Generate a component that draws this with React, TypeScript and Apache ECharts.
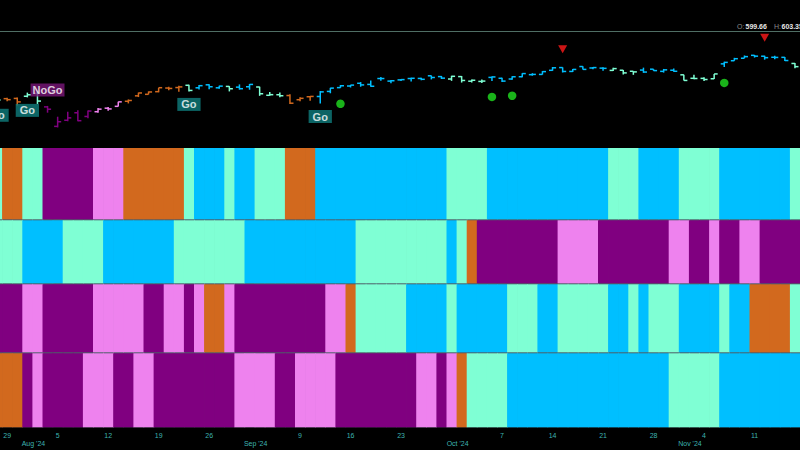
import React, { useEffect, useRef } from 'react';
import * as echarts from 'echarts';

const dates = [
  '2024-07-26','2024-07-29','2024-07-30','2024-07-31','2024-08-01','2024-08-02','2024-08-05','2024-08-06','2024-08-07','2024-08-08',
  '2024-08-09','2024-08-12','2024-08-13','2024-08-14','2024-08-15','2024-08-16','2024-08-19','2024-08-20','2024-08-21','2024-08-22',
  '2024-08-23','2024-08-26','2024-08-27','2024-08-28','2024-08-29','2024-08-30','2024-09-03','2024-09-04','2024-09-05','2024-09-06',
  '2024-09-09','2024-09-10','2024-09-11','2024-09-12','2024-09-13','2024-09-16','2024-09-17','2024-09-18','2024-09-19','2024-09-20',
  '2024-09-23','2024-09-24','2024-09-25','2024-09-26','2024-09-27','2024-09-30','2024-10-01','2024-10-02','2024-10-03','2024-10-04',
  '2024-10-07','2024-10-08','2024-10-09','2024-10-10','2024-10-11','2024-10-14','2024-10-15','2024-10-16','2024-10-17','2024-10-18',
  '2024-10-21','2024-10-22','2024-10-23','2024-10-24','2024-10-25','2024-10-28','2024-10-29','2024-10-30','2024-10-31','2024-11-01',
  '2024-11-04','2024-11-05','2024-11-06','2024-11-07','2024-11-08','2024-11-11','2024-11-12','2024-11-13','2024-11-14','2024-11-15',
];

const opens = [
  542.3,546.0,546.3,549.0,552.6,535.8,511.6,519.2,528.5,523.9,
  529.8,534.2,536.5,542.8,549.5,551.4,554.7,559.2,559.8,562.6,
  559.5,563.2,559.5,561.2,560.3,560.8,560.5,550.2,550.9,549.9,
  544.7,548.4,548.7,555.0,559.7,561.7,565.1,563.7,571.0,567.8,
  569.3,571.0,571.1,574.4,573.4,570.4,573.4,567.7,567.4,572.4,
  571.3,570.4,573.2,575.8,576.1,581.2,584.6,579.8,585.9,584.1,
  583.9,581.1,581.3,580.0,581.5,582.6,579.9,581.3,575.6,571.3,
  571.2,570.7,589.2,593.1,596.2,599.8,598.7,597.4,597.3,589.7,
];
const highs = [
  547.2,547.1,547.3,553.5,554.9,537.0,523.6,529.8,531.6,531.3,
  534.5,535.7,542.3,545.0,553.5,555.0,559.6,560.8,562.1,563.2,
  563.1,563.9,562.1,561.6,563.7,564.2,560.8,554.4,553.8,551.6,
  547.7,549.2,555.4,559.4,563.0,563.1,566.6,568.7,572.9,569.3,
  570.4,571.9,571.9,574.7,574.2,574.4,574.1,569.9,569.8,573.4,
  572.0,573.8,577.7,577.6,580.3,585.3,584.9,582.8,586.1,585.4,
  584.9,584.5,581.5,580.1,584.5,582.7,582.9,583.3,575.6,575.6,
  572.5,576.7,591.9,596.7,599.6,600.2,599.3,599.2,597.8,590.2,
];
const lows = [
  541.5,542.9,537.5,547.6,539.4,528.6,510.3,517.9,518.1,521.8,
  528.6,531.0,536.3,540.1,548.0,551.3,553.9,556.6,554.7,555.0,
  557.3,557.7,558.3,555.0,557.2,557.1,549.5,549.5,547.7,539.4,
  542.7,543.4,540.0,552.7,559.5,559.9,560.8,560.8,568.1,565.2,
  568.0,567.4,568.9,569.9,570.4,568.1,566.0,566.0,565.5,568.0,
  566.6,569.5,572.6,574.5,575.9,580.6,578.5,579.0,582.2,582.6,
  580.6,580.4,575.9,575.6,578.1,580.5,578.4,579.3,568.4,570.1,
  567.9,570.5,585.4,593.0,596.2,597.0,594.4,595.0,592.7,583.9,
];
const closes = [
  544.44,544.76,542.0,550.81,543.01,532.9,517.38,522.15,518.66,530.65,
  532.99,533.27,542.04,543.75,553.07,554.31,559.61,558.7,560.62,556.22,
  562.13,560.79,561.56,558.3,558.35,563.68,552.08,550.95,549.61,540.36,
  546.41,548.79,554.42,559.09,562.01,562.84,563.07,561.4,570.98,568.25,
  569.67,571.3,570.04,572.3,571.47,573.76,568.62,568.86,567.82,572.98,
  567.8,573.17,577.14,576.13,579.58,584.32,579.78,582.3,582.35,584.59,
  583.63,583.32,577.99,579.24,579.04,580.83,581.77,580.01,568.64,571.04,
  569.81,576.7,591.04,595.61,598.19,598.76,596.9,597.19,593.35,585.75,
];

// trend states as runs: A=aquamarine, B=deepskyblue, P=purple, V=violet, O=chocolate
const trendRow1 = [['A',1],['O',2],['A',2],['P',5],['V',3],['O',6],['A',1],['B',3],['A',1],['B',2],['A',3],['O',3],['B',13],['A',4],['B',12],['A',3],['B',4],['A',4],['B',7],['A',1]];
const trendRow2 = [['A',3],['B',4],['A',4],['B',7],['A',7],['B',11],['A',9],['B',1],['A',1],['O',1],['P',8],['V',4],['P',7],['V',2],['P',2],['V',1],['P',2],['V',2],['P',4]];
const trendRow3 = [['P',3],['V',2],['P',5],['V',5],['P',2],['V',2],['P',1],['V',1],['O',2],['V',1],['P',9],['V',2],['O',1],['A',5],['B',4],['A',1],['B',5],['A',3],['B',2],['A',5],['B',2],['A',1],['B',1],['A',3],['B',4],['A',1],['B',2],['O',4],['A',1]];
const trendRow4 = [['O',3],['P',1],['V',1],['P',4],['V',3],['P',2],['V',2],['P',8],['V',4],['P',2],['V',4],['P',8],['V',2],['P',1],['V',1],['O',1],['A',4],['B',16],['A',5],['B',8]];

const stateColors: Record<string, string> = { A: '#7FFFD4', B: '#00BFFF', P: '#800080', V: '#EE82EE', O: '#D2691E' };

const goIdx = [0, 3, 19, 32];
const noGoIdx = [5];
const topSignalIdx = [56, 76];
const bottomSignalIdx = [34, 49, 51, 72];

const dayTicks: [number, string][] = [[1,'29'],[6,'5'],[11,'12'],[16,'19'],[21,'26'],[30,'9'],[35,'16'],[40,'23'],[50,'7'],[55,'14'],[60,'21'],[65,'28'],[70,'4'],[75,'11']];
const monthTicks: [number, string][] = [[4,"Aug '24"],[26,"Sep '24"],[46,"Oct '24"],[69,"Nov '24"]];

const FONT = '"Liberation Sans", Arial, sans-serif';
const SHIFT = 8; // chart canvas starts 8px left of the page so the first (partial) day is cut

function expand(runs: any[]): string[] {
  const out: string[] = [];
  runs.forEach(([k, n]) => { for (let i = 0; i < n; i++) out.push(k); });
  return out;
}

export default function App() {
  const ref = useRef<HTMLDivElement>(null);
  useEffect(() => {
    if (!ref.current) return;
    const chart = echarts.init(ref.current, null, { renderer: 'svg' });
    const rows = [trendRow1, trendRow2, trendRow3, trendRow4].map(expand);
    const barColors = rows[0];
    const ohlc = dates.map((_, i) => [i, opens[i], highs[i], lows[i], closes[i]]);
    const dayMap: Record<number, string> = {};
    dayTicks.forEach(([i, t]) => (dayMap[i] = t));
    const monMap: Record<number, string> = {};
    monthTicks.forEach(([i, t]) => (monMap[i] = t));

    const grids = [
      { left: 0, right: 0, top: 31, height: 116 },
      { left: 0, right: 0, top: 148, height: 71.3 },
      { left: 0, right: 0, top: 220.3, height: 63 },
      { left: 0, right: 0, top: 284.3, height: 68 },
      { left: 0, right: 0, top: 353.3, height: 74 },
    ];
    const hiddenX = (g: number) => ({
      type: 'category', gridIndex: g, data: dates, show: false,
    });
    const xAxes: any[] = [0, 1, 2, 3].map(hiddenX);
    xAxes.push({
      type: 'category', gridIndex: 4, data: dates, position: 'bottom',
      axisLine: { show: false }, axisTick: { show: false },
      axisLabel: {
        interval: (idx: number) => dayMap[idx] !== undefined,
        formatter: (_v: string, idx: number) => dayMap[idx] || '',
        color: '#3db3b0', fontSize: 7, fontFamily: FONT, margin: 5,
      },
    });
    xAxes.push({
      type: 'category', gridIndex: 4, data: dates, position: 'bottom', offset: 0,
      axisLine: { show: false }, axisTick: { show: false },
      axisLabel: {
        interval: (idx: number) => monMap[idx] !== undefined,
        formatter: (_v: string, idx: number) => monMap[idx] || '',
        color: '#3db3b0', fontSize: 7, fontFamily: FONT, margin: 13, padding: [0, 8, 0, 0],
      },
    });
    const yAxes: any[] = [
      { type: 'value', gridIndex: 0, min: 486, max: 630, show: false },
      ...[1, 2, 3, 4].map((g) => ({ type: 'value', gridIndex: g, min: 0, max: 1, show: false })),
    ];

    const heatSeries = rows.map((row, r) => ({
      type: 'custom',
      xAxisIndex: r + 1,
      yAxisIndex: r + 1,
      data: row.map((k, i) => [i, 0.5, k]),
      renderItem: (params: any, api: any) => {
        const i = api.value(0);
        const c = api.coord([i, 0]);
        const w = api.size([1, 0])[0];
        const cs = params.coordSys;
        return {
          type: 'rect',
          shape: { x: c[0] - w / 2, y: cs.y, width: w + 0.7, height: cs.height },
          style: { fill: stateColors[row[i]] },
        };
      },
    }));

    const labelBase = {
      show: true, position: 'inside', color: '#ffffff', fontWeight: 'bold', fontSize: 11,
      fontFamily: FONT, lineHeight: 11,
    };

    chart.setOption({
      animation: false,
      backgroundColor: '#000000',
      grid: grids,
      xAxis: xAxes,
      yAxis: yAxes,
      graphic: [
        { type: 'rect', z: -10, shape: { x: 0, y: 148, width: 808, height: 279.3 }, style: { fill: '#4e5e68' } },
        { type: 'line', shape: { x1: 0, y1: 31.5, x2: 808, y2: 31.5 }, style: { stroke: '#4f6e64', lineWidth: 1.2 } },
        { type: 'text', x: 737 + SHIFT, y: 26, style: { text: 'O:', fill: '#8c8c8c', font: `7px ${FONT}`, verticalAlign: 'middle' } },
        { type: 'text', x: 745.5 + SHIFT, y: 26, style: { text: '599.66', fill: '#e8e8e8', font: `bold 7px ${FONT}`, verticalAlign: 'middle' } },
        { type: 'text', x: 774 + SHIFT, y: 26, style: { text: 'H:', fill: '#8c8c8c', font: `7px ${FONT}`, verticalAlign: 'middle' } },
        { type: 'text', x: 781.5 + SHIFT, y: 26, style: { text: '603.35', fill: '#e8e8e8', font: `bold 7px ${FONT}`, verticalAlign: 'middle' } },
      ],
      series: [
        ...heatSeries,
        {
          type: 'custom',
          xAxisIndex: 0,
          yAxisIndex: 0,
          encode: { x: 0, y: [1, 2, 3, 4] },
          data: ohlc,
          renderItem: (_params: any, api: any) => {
            const i = api.value(0);
            const o = api.coord([i, api.value(1)]);
            const h = api.coord([i, api.value(2)]);
            const l = api.coord([i, api.value(3)]);
            const c = api.coord([i, api.value(4)]);
            const w = api.size([1, 0])[0] * 0.35;
            const color = stateColors[barColors[i]];
            const st = { stroke: color, lineWidth: 1.5 };
            return {
              type: 'group',
              children: [
                { type: 'line', shape: { x1: h[0], y1: h[1], x2: l[0], y2: l[1] }, style: st },
                { type: 'line', shape: { x1: o[0] - w, y1: o[1], x2: o[0], y2: o[1] }, style: st },
                { type: 'line', shape: { x1: c[0], y1: c[1], x2: c[0] + w, y2: c[1] }, style: st },
              ],
            };
          },
          z: 3,
        },
        {
          type: 'scatter', xAxisIndex: 0, yAxisIndex: 0,
          data: topSignalIdx.map((i) => [i, highs[i]]),
          symbol: 'triangle', symbolRotate: 180, symbolSize: [9, 8], symbolOffset: [0, -18],
          itemStyle: { color: '#ff1a1a' }, z: 4,
        },
        {
          type: 'scatter', xAxisIndex: 0, yAxisIndex: 0,
          data: bottomSignalIdx.map((i) => [i, lows[i]]),
          symbol: 'circle', symbolSize: 8.5, symbolOffset: [0, 16],
          itemStyle: { color: '#20e020' }, z: 4,
        },
        {
          type: 'scatter', xAxisIndex: 0, yAxisIndex: 0,
          data: goIdx.map((i) => [i, lows[i]]),
          symbolSize: 1, itemStyle: { color: 'rgba(0,0,0,0)' },
          label: { ...labelBase, formatter: 'Go', backgroundColor: '#0f7d7d', padding: [1, 4, 1, 4], offset: [0, 13] },
          z: 5,
        },
        {
          type: 'scatter', xAxisIndex: 0, yAxisIndex: 0,
          data: noGoIdx.map((i) => [i, highs[i]]),
          symbolSize: 1, itemStyle: { color: 'rgba(0,0,0,0)' },
          label: { ...labelBase, formatter: 'NoGo', backgroundColor: '#7a177a', padding: [1, 2, 1, 2], offset: [0, -16] },
          z: 5,
        },
      ],
    });
    return () => chart.dispose();
  }, []);
  return (
    <div
      ref={ref}
      style={{ position: 'absolute', left: -SHIFT, top: 0, width: 800 + SHIFT, height: 450, background: '#000' }}
    />
  );
}
